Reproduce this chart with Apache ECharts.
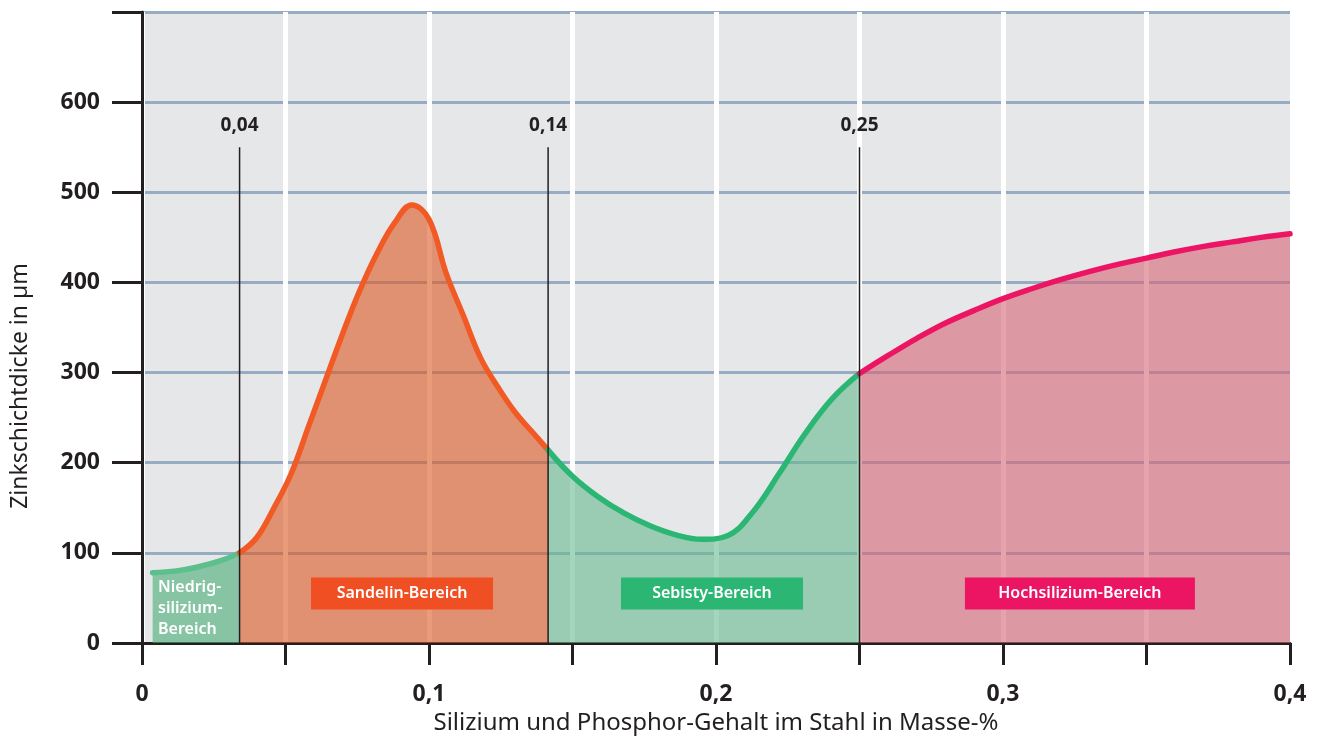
<!DOCTYPE html>
<html>
<head>
<meta charset="utf-8">
<script src="https://cdn.jsdelivr.net/npm/echarts@6/dist/echarts.min.js"></script>
<style>
html,body{margin:0;padding:0;background:#ffffff;overflow:hidden;}
#chart{width:1322px;height:740px;}
</style>
</head>
<body>
<div id="chart"></div>
<script>
// ---- data ----
var niedrigX = [0.0037, 0.012, 0.019, 0.028, 0.034];
var niedrigY = [78, 80, 84, 92, 100];

var sandelinX = [0.034, 0.040, 0.046, 0.052, 0.058, 0.064, 0.070, 0.076, 0.082, 0.088, 0.094, 0.100, 0.106, 0.112, 0.118, 0.124, 0.130, 0.136, 0.1415];
var sandelinY = [100, 117, 150, 188, 240, 292, 344, 392, 433, 466, 486, 470, 410, 363, 316, 284, 256, 234, 214];

var sebistyX = [0.1415, 0.150, 0.159, 0.168, 0.177, 0.186, 0.195, 0.204, 0.213, 0.222, 0.231, 0.2405, 0.25];
var sebistyY = [214, 185, 162, 144, 130, 120, 115, 119, 146, 188, 232, 271, 299];

var hochX = [0.25, 0.26, 0.27, 0.28, 0.29, 0.30, 0.31, 0.32, 0.33, 0.34, 0.35, 0.36, 0.37, 0.38, 0.39, 0.40];
var hochY = [299, 319, 338, 355, 369, 382, 393, 403, 412, 420, 427, 434, 440, 445, 450, 454];

var markerX = [0.034, 0.1415, 0.25];
var markerLabels = ['0,04', '0,14', '0,25'];
var markerTop = 550;
var markerLabelY = 574;

var regionNames = ['Sandelin-Bereich', 'Sebisty-Bereich', 'Hochsilizium-Bereich'];
var regionX = [0.0906, 0.1986, 0.3268];
var regionY = 55;
var niedrigLabel = 'Niedrig-\nsilizium-\nBereich';
var niedrigLabelPos = [0.0056, 38];

var xTicks = [0, 0.05, 0.1, 0.15, 0.2, 0.25, 0.3, 0.35, 0.4];
var yTicks = [0, 100, 200, 300, 400, 500, 600, 700];

var xName = 'Silizium und Phosphor-Gehalt im Stahl in Masse-%';
var yName = 'Zinkschichtdicke in µm';

// ---- helpers ----
function zip(xs, ys) { return xs.map(function (x, i) { return [x, ys[i]]; }); }
var FONT = '"Noto Sans", sans-serif';
var DARK = '#231f20';

function areaSeries(name, xs, ys, lineColor, fillColor) {
  return {
    name: name, type: 'line', data: zip(xs, ys), smooth: 0.4,
    symbol: 'none', z: 3,
    lineStyle: { color: lineColor, width: 5.5, cap: 'round', join: 'round' },
    areaStyle: { color: fillColor, opacity: 1, origin: 'start' },
    silent: true
  };
}

var series = [
  areaSeries('Niedrig', niedrigX, niedrigY, '#5cbf8c', 'rgba(72,173,119,0.6)'),
  areaSeries('Sandelin', sandelinX, sandelinY, '#f15a24', 'rgba(220,89,34,0.6)'),
  areaSeries('Sebisty', sebistyX, sebistyY, '#2bb673', 'rgba(102,186,144,0.6)'),
  areaSeries('Hochsilizium', hochX, hochY, '#ec1563', 'rgba(213,101,117,0.6)')
];

markerX.forEach(function (x) {
  series.push({
    type: 'line', data: [[x, 0], [x, markerTop]], symbol: 'none', z: 5, silent: true,
    lineStyle: { color: DARK, width: 1.5 }
  });
});

series.push({
  type: 'scatter', symbolSize: 0, z: 6, silent: true, itemStyle: { opacity: 1 },
  data: markerX.map(function (x, i) { return { value: [x, markerLabelY], name: markerLabels[i] }; }),
  label: {
    show: true, position: 'inside', formatter: '{b}', color: DARK, opacity: 1,
    fontFamily: FONT, fontWeight: 'bold', fontSize: 19, align: 'center', verticalAlign: 'middle'
  }
});

var boxColors = ['#f04e23', '#2bb673', '#ec1563'];
var boxWidths = [182, 182, 230];
series.push({
  type: 'scatter', symbolSize: 0, z: 6, silent: true, itemStyle: { opacity: 1 },
  data: regionX.map(function (x, i) {
    return {
      value: [x, regionY], name: regionNames[i],
      label: { backgroundColor: boxColors[i], width: boxWidths[i] }
    };
  }),
  label: {
    show: true, position: 'inside', formatter: '{b}', color: '#ffffff', opacity: 1,
    fontFamily: FONT, fontWeight: 600, fontSize: 16, align: 'center', verticalAlign: 'middle',
    height: 32, lineHeight: 32
  }
});

series.push({
  type: 'scatter', symbolSize: 0, z: 6, silent: true, itemStyle: { opacity: 1 },
  data: [{ value: niedrigLabelPos, name: niedrigLabel }],
  label: {
    show: true, position: 'inside', formatter: '{b}', color: '#ffffff', opacity: 1,
    fontFamily: FONT, fontWeight: 600, fontSize: 16, lineHeight: 21,
    align: 'left', verticalAlign: 'middle'
  }
});

var splitColors = xTicks.map(function (t, i) { return i === xTicks.length - 1 ? 'rgba(0,0,0,0)' : '#ffffff'; });

var option = {
  animation: false,
  backgroundColor: '#ffffff',
  grid: { left: 142, width: 1148, top: 12, height: 634, show: true, backgroundColor: '#e6e7e9', borderWidth: 0 },
  xAxis: {
    type: 'value', min: xTicks[0], max: xTicks[xTicks.length - 1], interval: 0.05,
    name: xName, nameLocation: 'middle', nameGap: 68,
    nameTextStyle: { fontFamily: FONT, fontSize: 24, color: DARK },
    axisLine: { show: true, lineStyle: { color: DARK, width: 3 } },
    axisTick: { show: true, length: 22, lineStyle: { color: DARK, width: 3 } },
    axisLabel: {
      margin: 40, fontFamily: FONT, fontWeight: 'bold', fontSize: 23, color: DARK,
      formatter: function (v) {
        var k = Math.round(v * 100);
        if (k % 10 !== 0) return '';
        return String(k / 100).replace('.', ',');
      }
    },
    splitLine: { show: true, lineStyle: { color: splitColors, width: 5 } }
  },
  yAxis: {
    type: 'value', min: yTicks[0], max: yTicks[yTicks.length - 1], interval: 100,
    axisLine: { show: true, lineStyle: { color: DARK, width: 3 } },
    axisTick: { show: true, length: 30, lineStyle: { color: DARK, width: 3 } },
    axisLabel: {
      margin: 42, fontFamily: FONT, fontWeight: 'bold', fontSize: 23, color: DARK,
      formatter: function (v) { return v === 700 ? '' : String(v); }
    },
    splitLine: { show: true, lineStyle: { color: '#97abc3', width: 3 } }
  },
  graphic: [{
    type: 'text', x: 20, y: 386, rotation: Math.PI / 2,
    style: { text: yName, fontFamily: FONT, fontSize: 23, fill: DARK, align: 'center', verticalAlign: 'middle' }
  }],
  series: series
};

var chart = echarts.init(document.getElementById('chart'), null, { renderer: 'canvas' });
chart.setOption(option);
</script>
</body>
</html>
